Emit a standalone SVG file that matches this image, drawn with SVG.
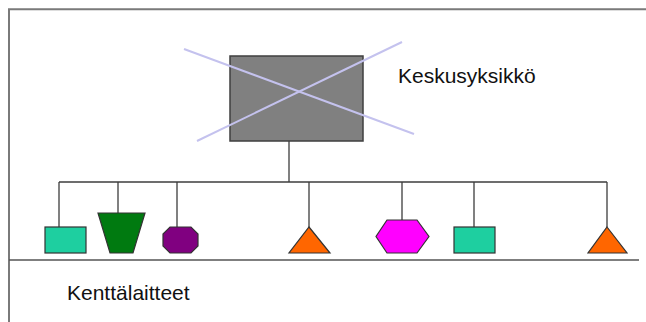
<svg xmlns="http://www.w3.org/2000/svg" width="646" height="322" viewBox="0 0 646 322">
  <style>
    .frame { fill: none; stroke: #7a7a7a; stroke-width: 2; }
    .wire { fill: none; stroke: #3c3c3c; stroke-width: 1.3; }
    .ground { fill: none; stroke: #555555; stroke-width: 1.6; }
    .cross { stroke: #c4c2ee; stroke-width: 2; }
    .dev { stroke: #333333; stroke-width: 1.2; stroke-linejoin: miter; }
    .label { font-family: "Liberation Sans", Arial, sans-serif; font-size: 21px; fill: #111111; }
  </style>

  <rect width="646" height="322" fill="#ffffff"/>

  <!-- outer frame: only the left and top edges fall inside the view -->
  <path class="frame" d="M9 322 V9.3 H646"/>

  <!-- connectors: trunk, bus and drops -->
  <g id="connectors">
    <line class="wire" x1="289" y1="141" x2="289" y2="182"/>
    <line class="wire" x1="59" y1="182" x2="607" y2="182"/>
    <line class="wire" x1="59" y1="182" x2="59" y2="227"/>
    <line class="wire" x1="118" y1="182" x2="118" y2="213"/>
    <line class="wire" x1="177" y1="182" x2="177" y2="227"/>
    <line class="wire" x1="309" y1="182" x2="309" y2="227"/>
    <line class="wire" x1="402" y1="182" x2="402" y2="220"/>
    <line class="wire" x1="474" y1="182" x2="474" y2="227"/>
    <line class="wire" x1="607" y1="182" x2="607" y2="227"/>
  </g>

  <!-- ground line -->
  <line class="ground" x1="9" y1="260" x2="639" y2="260"/>

  <!-- central unit, struck through -->
  <g id="central-unit">
    <rect x="230" y="56" width="133" height="85" fill="#808080" stroke="#3f3f3f" stroke-width="1.5"/>
    <line class="cross" x1="184" y1="49" x2="414" y2="134"/>
    <line class="cross" x1="197" y1="141" x2="402" y2="42"/>
  </g>
  <text id="label-central" class="label" x="398" y="83">Keskusyksikkö</text>

  <!-- field devices -->
  <g id="dev-square-1">
    <rect class="dev" x="45" y="227" width="41" height="26" fill="#1ecfa0"/>
  </g>
  <g id="dev-trapezoid">
    <polygon class="dev" points="98,213 145,213 133,253 110,253" fill="#007a10"/>
  </g>
  <g id="dev-octagon">
    <polygon class="dev" points="170,227 191,227 198,234 198,246 191,253 170,253 163,246 163,234" fill="#800080"/>
  </g>
  <g id="dev-triangle-1">
    <polygon class="dev" points="309,227 330,253 289,253" fill="#ff6600"/>
  </g>
  <g id="dev-hexagon">
    <polygon class="dev" points="387,220 417,220 429,236.5 417,253 387,253 376,236.5" fill="#ff00ff"/>
  </g>
  <g id="dev-square-2">
    <rect class="dev" x="454" y="227" width="41" height="26" fill="#1ecfa0"/>
  </g>
  <g id="dev-triangle-2">
    <polygon class="dev" points="607,227 627,253 588,253" fill="#ff6600"/>
  </g>

  <text id="label-field" class="label" x="67" y="300">Kenttälaitteet</text>
</svg>
